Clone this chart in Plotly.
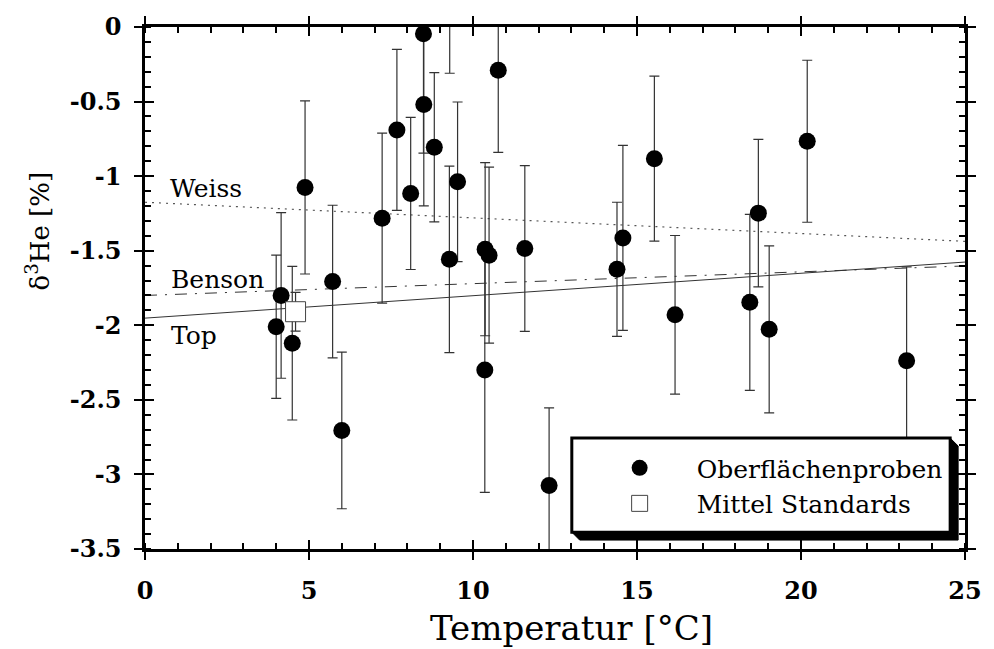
import plotly.graph_objects as go

# ---- data ----
temp = [4.00, 4.15, 4.49, 4.88, 5.72, 6.00, 7.23, 7.68, 8.10, 8.49, 8.50, 8.82,
        9.28, 9.29, 9.53, 10.37, 10.49, 10.36, 10.77, 11.58, 12.32, 14.39, 14.57,
        15.53, 16.16, 18.44, 18.70, 19.03, 20.19, 23.22]
delta = [-2.01, -1.80, -2.12, -1.076, -1.707, -2.705, -1.282, -0.69, -1.116, -0.046, -0.52, -0.806,
         -1.558, 0.22, -1.038, -1.49, -1.53, -2.30, -0.29, -1.485, -3.074, -1.625, -1.414,
         -0.883, -1.93, -1.846, -1.248, -2.027, -0.766, -2.238]
err = [0.48, 0.555, 0.515, 0.58, 0.512, 0.525, 0.57, 0.54, 0.51, 0.80, 0.68, 0.50,
       0.625, 0.53, 0.535, 0.58, 0.59, 0.82, 0.55, 0.556, 0.52, 0.45, 0.62,
       0.553, 0.532, 0.59, 0.495, 0.56, 0.543, 0.63]

std_temp = [4.59]
std_delta = [-1.909]
std_err = [0.13]

line_x = [0, 25]
weiss_y = [-1.175, -1.437]
benson_y = [-1.80, -1.602]
top_y = [-1.952, -1.576]

x_range = [0, 25]
y_range = [-3.5, 0]
x_ticks = [0, 5, 10, 15, 20, 25]
x_ticktext = ["0", "5", "10", "15", "20", "25"]
y_ticks = [0, -0.5, -1, -1.5, -2, -2.5, -3, -3.5]
y_ticktext = ["0", "-0.5", "-1", "-1.5", "-2", "-2.5", "-3", "-3.5"]

SERIF = "DejaVu Serif"

fig = go.Figure()

fig.add_trace(go.Scatter(x=line_x, y=weiss_y, mode="lines", showlegend=False,
                         line=dict(color="#555", width=1.2, dash="2px,5px")))
fig.add_trace(go.Scatter(x=line_x, y=benson_y, mode="lines", showlegend=False,
                         line=dict(color="#333", width=1, dash="12px,8px,2px,8px")))
fig.add_trace(go.Scatter(x=line_x, y=top_y, mode="lines", showlegend=False,
                         line=dict(color="#333", width=1)))

fig.add_trace(go.Scatter(
    x=temp, y=delta, mode="markers", name="Oberflächenproben",
    marker=dict(symbol="circle", size=17, color="black"),
    error_y=dict(type="data", array=err, visible=True, color="#333", thickness=1.2, width=5),
))
fig.add_trace(go.Scatter(
    x=std_temp, y=std_delta, mode="markers", name="Mittel Standards",
    marker=dict(symbol="square", size=20, color="white", line=dict(color="#444", width=1)),
    error_y=dict(type="data", array=std_err, visible=True, color="#333", thickness=1.2, width=5),
))

# overlay axes for the inward half of the major ticks
fig.add_trace(go.Scatter(x=[None], y=[None], xaxis="x2", yaxis="y2", showlegend=False))

axis_common = dict(showgrid=False, zeroline=False, showline=True, linecolor="black",
                   linewidth=2.5, mirror="ticks", ticks="outside", ticklen=8,
                   tickwidth=2, tickcolor="black", tickmode="array",
                   tickfont=dict(family=SERIF, size=24, color="black", weight="bold"))

fig.update_layout(
    width=994, height=649,
    margin=dict(l=145, r=19, t=22, b=100),
    paper_bgcolor="white", plot_bgcolor="white",
    xaxis=dict(range=x_range, tickvals=x_ticks, ticktext=x_ticktext, ticklabelstandoff=10,
               minor=dict(dtick=1, ticks="inside", ticklen=6, tickwidth=1.5, tickcolor="black"),
               **axis_common),
    yaxis=dict(range=y_range, tickvals=y_ticks, ticktext=y_ticktext, ticklabelstandoff=8,
               minor=dict(dtick=0.1, ticks="inside", ticklen=6, tickwidth=1.5, tickcolor="black"),
               **axis_common),
    xaxis2=dict(range=x_range, overlaying="x", anchor="y2", dtick=5, tick0=0,
                ticks="inside", ticklen=9, tickwidth=2, tickcolor="black", mirror="ticks",
                showticklabels=False, showgrid=False, zeroline=False, showline=False),
    yaxis2=dict(range=y_range, overlaying="y", anchor="x2", dtick=0.5, tick0=0,
                ticks="inside", ticklen=9, tickwidth=2, tickcolor="black", mirror="ticks",
                showticklabels=False, showgrid=False, zeroline=False, showline=False),
    showlegend=True,
    legend=dict(x=0.5337, y=0.199, xanchor="left", yanchor="top",
                bgcolor="rgba(0,0,0,0)", borderwidth=0,
                font=dict(family=SERIF, size=25, color="black"),
                itemwidth=104, tracegroupgap=0),
)

# legend box with drop shadow
fig.add_shape(type="path", xref="paper", yref="paper", layer="above",
              path="M 0.9819 0.2125 L 0.9916 0.1973 L 0.9916 0.0171 L 0.5301 0.0171 L 0.5205 0.0323 Z",
              fillcolor="black", line=dict(color="black", width=1))
fig.add_shape(type="rect", xref="paper", yref="paper", layer="above",
              x0=0.5205, x1=0.9819, y0=0.0323, y1=0.2125,
              fillcolor="white", line=dict(color="black", width=3))

# line labels
for txt, xx, yy in [("Weiss", 0.69, -1.082), ("Benson", 0.72, -1.693), ("Top", 0.72, -2.07)]:
    fig.add_annotation(x=xx, y=yy, xref="x", yref="y", text=txt, showarrow=False,
                       xanchor="left", yanchor="middle",
                       font=dict(family=SERIF, size=25, color="black"))

# axis titles
fig.add_annotation(x=0.52, y=-0.152, xref="paper", yref="paper", text="Temperatur [°C]",
                   showarrow=False, xanchor="center", yanchor="middle",
                   font=dict(family=SERIF, size=34, color="black"))
fig.add_annotation(x=-0.13, y=0.609, xref="paper", yref="paper", text="δ<sup>3</sup>He [%]",
                   showarrow=False, xanchor="center", yanchor="middle", textangle=-90,
                   font=dict(family=SERIF, size=26, color="black"))

fig.write_html("out.html")
